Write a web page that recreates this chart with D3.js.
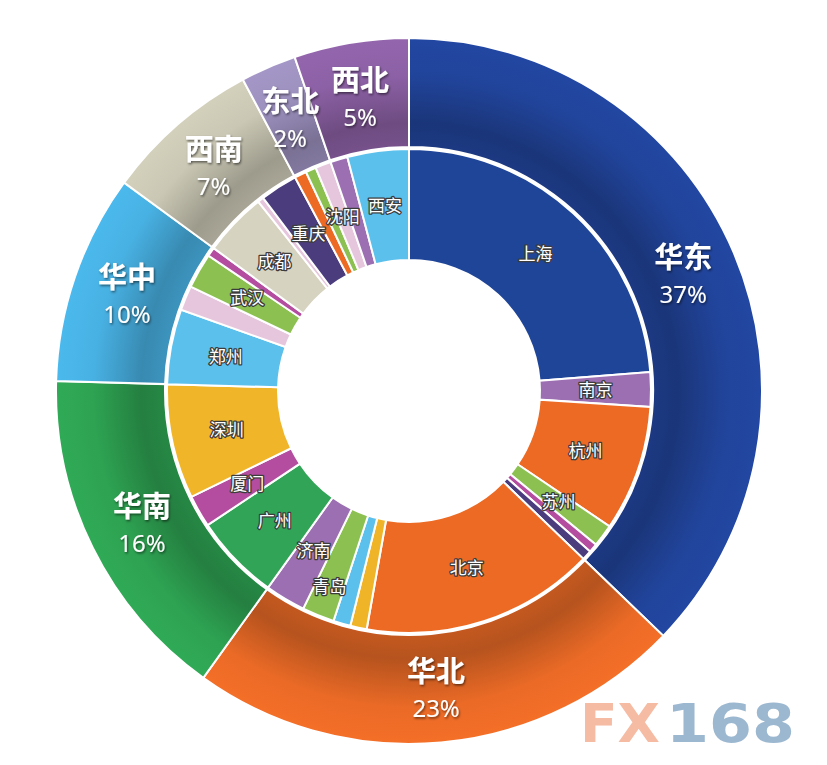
<!DOCTYPE html>
<html>
<head>
<meta charset="utf-8">
<script src="https://cdn.jsdelivr.net/npm/d3@7"></script>
<style>
  body { margin: 0; background: #fff; }
  text { font-family: "Noto Sans CJK SC", "Noto Sans", sans-serif; }
</style>
</head>
<body>
<div id="chart"></div>
<script>
// outer ring: regions (clockwise from 12 o'clock)
var regions = ["华东", "华北", "华南", "华中", "西南", "东北", "西北"];
var regionPctText = ["37%", "23%", "16%", "10%", "7%", "2%", "5%"];

// inner ring: cities, in the same clockwise order ("" = no label)
var cityNames  = ["上海", "南京", "杭州", "苏州", "", "",
                  "北京", "", "", "青岛", "济南",
                  "广州", "厦门", "深圳",
                  "郑州", "", "武汉", "",
                  "成都", "", "重庆",
                  "", "", "沈阳",
                  "", "西安"];
var cityRegion = ["华东", "华东", "华东", "华东", "华东", "华东",
                  "华北", "华北", "华北", "华北", "华北",
                  "华南", "华南", "华南",
                  "华中", "华中", "华中", "华中",
                  "西南", "西南", "西南",
                  "东北", "东北", "东北",
                  "西北", "西北"];
var cityValues = [23.75, 2.3, 8.4, 1.5, 0.6, 0.65,
                  15.6, 1.1, 1.15, 2.15, 2.7,
                  5.75, 2.15, 7.65,
                  5.0, 1.65, 2.35, 0.6,
                  4.25, 0.4, 2.5,
                  0.8, 0.7, 1.05,
                  1.15, 4.1];

// styles
var regionColors = ["#21449b", "#ea6a26", "#2ea352", "#48b1e3", "#cac7b4", "#9d91bf", "#8d61a6"];
var cityColors = ["#1f4599", "#9b6fb2", "#ec6a23", "#8cc152", "#b44d9f", "#4b3c7e",
                  "#ec6a23", "#f0b429", "#5bc0eb", "#8cc152", "#9b6fb2",
                  "#31a457", "#b44d9f", "#f1b52a",
                  "#5bc0eb", "#e6c6dc", "#8cc152", "#b44d9f",
                  "#d6d3c0", "#e6c6dc", "#4b3c7e",
                  "#ec6a23", "#8cc152", "#e6c6dc",
                  "#9b6fb2", "#5bc0eb"];

var width = 827, height = 765;
var cx = 409, cy = 391;
var r0 = 131, r1 = 242, r2 = 244, r3 = 353;

var svg = d3.select("#chart").append("svg")
    .attr("width", width)
    .attr("height", height);

var defs = svg.append("defs");

var shadow = defs.append("filter")
    .attr("id", "txtShadow")
    .attr("x", "-20%").attr("y", "-20%")
    .attr("width", "140%").attr("height", "140%");
shadow.append("feDropShadow")
    .attr("dx", 1).attr("dy", 1.5)
    .attr("stdDeviation", 1.2)
    .attr("flood-color", "#000")
    .attr("flood-opacity", 0.55);

// shaded gradient for the outer ring, dark next to the inner ring
regions.forEach(function(reg, i) {
    var c = d3.color(regionColors[i]);
    var grad = defs.append("radialGradient")
        .attr("id", "grad" + i)
        .attr("gradientUnits", "userSpaceOnUse")
        .attr("cx", 0).attr("cy", 0).attr("r", r3);
    var stops = [
        [r2 / r3, c.darker(0.5)],
        [(r2 + 24) / r3, c.darker(0.7)],
        [(r2 + 72) / r3, c],
        [1, c.brighter(0.12)]
    ];
    stops.forEach(function(s) {
        grad.append("stop")
            .attr("offset", s[0])
            .attr("stop-color", s[1].formatHex());
    });
});

var g = svg.append("g")
    .attr("transform", "translate(" + cx + "," + cy + ")");

var cities = cityValues.map(function(v, i) {
    return {name: cityNames[i], region: cityRegion[i], value: v, color: cityColors[i]};
});

var regionTotals = regions.map(function(reg, i) {
    return {
        name: reg,
        pct: regionPctText[i],
        idx: i,
        value: d3.sum(cities.filter(function(c) { return c.region == reg; }), function(c) { return c.value; })
    };
});

var pie = d3.pie()
    .sort(null)
    .value(function(d) { return d.value; });

var outerArc = d3.arc().innerRadius(r2).outerRadius(r3);
var innerArc = d3.arc().innerRadius(r0).outerRadius(r1);

// outer ring
g.append("g").selectAll("path")
    .data(pie(regionTotals))
    .enter().append("path")
    .attr("d", outerArc)
    .attr("fill", function(d) { return "url(#grad" + d.data.idx + ")"; })
    .attr("stroke", "#fff")
    .attr("stroke-width", 2);

// inner ring
var innerSlices = pie(cities);
g.append("g").selectAll("path")
    .data(innerSlices)
    .enter().append("path")
    .attr("d", innerArc)
    .attr("fill", function(d) { return d.data.color; })
    .attr("stroke", "#fff")
    .attr("stroke-width", 2);

// outer labels
var labelArc = d3.arc().innerRadius(298).outerRadius(298);
var outerLabels = g.append("g").selectAll("g")
    .data(pie(regionTotals))
    .enter().append("g")
    .attr("transform", function(d) { return "translate(" + labelArc.centroid(d) + ")"; })
    .attr("filter", "url(#txtShadow)")
    .attr("text-anchor", "middle")
    .attr("fill", "#fff");

outerLabels.append("text")
    .attr("y", -6)
    .style("font-size", "29px")
    .style("font-weight", "bold")
    .text(function(d) { return d.data.name; });

outerLabels.append("text")
    .attr("y", 29)
    .style("font-family", "'Noto Sans', sans-serif")
    .style("font-size", "24px")
    .text(function(d) { return d.data.pct; });

// inner labels (青岛 sits a little further out)
var radiusNudge = {"青岛": 212};
g.append("g").selectAll("text")
    .data(innerSlices.filter(function(d) { return d.data.name != ""; }))
    .enter().append("text")
    .attr("transform", function(d) {
        var rr = radiusNudge[d.data.name] || (r0 + r1) / 2;
        var a = (d.startAngle + d.endAngle) / 2;
        return "translate(" + (rr * Math.sin(a)) + "," + (-rr * Math.cos(a)) + ")";
    })
    .attr("dy", "0.35em")
    .attr("text-anchor", "middle")
    .attr("fill", "#fff")
    .attr("stroke", "#3c3c3c")
    .attr("stroke-width", 2.6)
    .attr("stroke-linejoin", "round")
    .attr("paint-order", "stroke")
    .style("font-size", "17px")
    .text(function(d) { return d.data.name; });

// watermark
var wm = svg.append("g")
    .style("font-weight", "bold")
    .style("font-size", "53px");
wm.append("text")
    .attr("x", 580).attr("y", 742)
    .attr("textLength", 80)
    .attr("lengthAdjust", "spacingAndGlyphs")
    .attr("fill", "#f5bba3")
    .style("font-family", "'DejaVu Sans', sans-serif")
    .text("FX");
wm.append("text")
    .attr("x", 666).attr("y", 742)
    .attr("textLength", 129)
    .attr("lengthAdjust", "spacingAndGlyphs")
    .attr("fill", "#9cb8d0")
    .style("font-family", "'DejaVu Sans', sans-serif")
    .text("168");
</script>
</body>
</html>
